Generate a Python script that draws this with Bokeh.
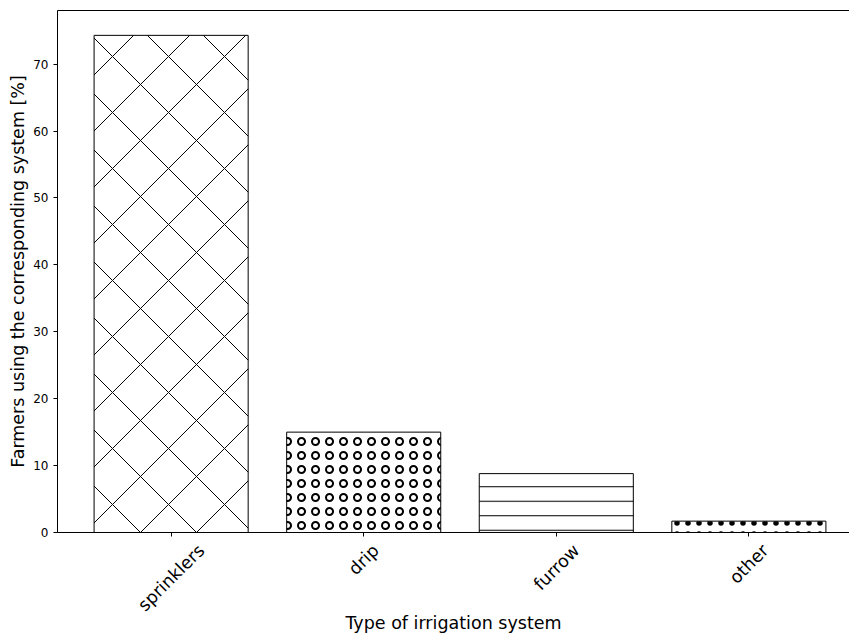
import math
from bokeh.plotting import figure
from bokeh.models import (ColumnDataSource, Range1d, FixedTicker, LinearAxis,
                          CustomJSTickFormatter)
from bokeh.embed import file_html
from bokeh.resources import INLINE

# ---- data ----
categories = ["sprinklers", "drip", "furrow", "other"]
percent = [74.3, 15.0, 8.8, 1.7]
y_ticks = [0, 10, 20, 30, 40, 50, 60, 70]
x_title = "Type of irrigation system"
y_title = "Farmers using the corresponding system [%]"

# ---- styles ----
hatches = ["diagonal_cross", "ring", "horizontal_line", "dot"]
hatch_scales = [56, 14, 14.5, 11]
hatch_weights = [1, 2, 1, 1]

FONT = "DejaVu Sans"
LABEL_PX = 17.5
W, H = 849, 636
BL, BT, BB = 57, 10, 104
frame_w = W - BL
frame_h = H - BT - BB

n = len(categories)
bar_w = 0.8
y_top = max(percent) * 1.05
x_lo = -bar_w / 2 - 0.05 * (n - 1 + bar_w)
x_hi_full = (n - 1) + bar_w / 2 + 0.05 * (n - 1 + bar_w)
full_frame_w = 805  # reference frame is cropped at the right edge
x_hi = x_lo + (x_hi_full - x_lo) * frame_w / full_frame_w
px_per_x = frame_w / (x_hi - x_lo)

p = figure(width=W, height=H,
           x_range=Range1d(x_lo, x_hi), y_range=Range1d(0, y_top),
           output_backend="svg", toolbar_location=None,
           min_border_left=BL, min_border_right=0,
           min_border_top=BT, min_border_bottom=BB)
p.background_fill_color = "white"
p.border_fill_color = "white"
p.outline_line_color = None
p.xgrid.visible = False
p.ygrid.visible = False

src = ColumnDataSource(dict(
    x=list(range(n)), top=percent, hatch=hatches,
    scale=hatch_scales, weight=hatch_weights))
p.vbar(x="x", top="top", bottom=0, width=bar_w, source=src,
       fill_color="white", line_color="black", line_width=1,
       hatch_pattern="hatch", hatch_scale="scale", hatch_weight="weight",
       hatch_color="black")

# x axis: tick marks only
xa = p.xaxis[0]
xa.ticker = FixedTicker(ticks=list(range(n)))
xa.major_label_overrides = {i: "" for i in range(n)}
xa.major_label_text_font_size = "0px"
xa.major_label_standoff = 0
xa.major_tick_out = 4
xa.major_tick_in = 0
xa.minor_tick_out = 0
xa.minor_tick_in = 0
xa.axis_line_color = "black"
xa.major_tick_line_color = "black"

# CCW-rotated names, shifted so each text's centre sits under its bar
CW = {"s": .521, "p": .635, "r": .411, "i": .278, "n": .634, "k": .579, "l": .278,
      "e": .615, "d": .635, "f": .352, "u": .634, "o": .612, "w": .818, "t": .392,
      "h": .634}

def text_w(t, size):
    return sum(CW.get(c, .6) for c in t) * size

label_ticks = [i + 0.354 * text_w(name, LABEL_PX) / px_per_x
               for i, name in enumerate(categories)]
la = LinearAxis(ticker=FixedTicker(ticks=label_ticks),
                formatter=CustomJSTickFormatter(args=dict(names=categories),
                                                code="return names[Math.round(tick)]"),
                major_label_orientation=math.pi / 4,
                major_label_text_font=FONT,
                major_label_text_font_size=f"{LABEL_PX}px",
                major_label_text_color="black",
                major_label_standoff=11,
                major_tick_out=0, major_tick_in=0,
                minor_tick_out=0, minor_tick_in=0,
                axis_line_color=None,
                axis_label=x_title,
                axis_label_text_font=FONT,
                axis_label_text_font_size=f"{LABEL_PX}px",
                axis_label_text_font_style="normal",
                axis_label_text_color="black",
                axis_label_standoff=-12)
p.add_layout(la, "below")

ya = p.yaxis[0]
ya.ticker = FixedTicker(ticks=y_ticks)
ya.major_label_text_font = FONT
ya.major_label_text_font_size = "12px"
ya.major_label_text_color = "black"
ya.major_label_standoff = 5
ya.major_tick_out = 4
ya.major_tick_in = 0
ya.minor_tick_out = 0
ya.minor_tick_in = 0
ya.axis_line_color = "black"
ya.major_tick_line_color = "black"
ya.axis_label = y_title
ya.axis_label_text_font = FONT
ya.axis_label_text_font_size = f"{LABEL_PX}px"
ya.axis_label_text_font_style = "normal"
ya.axis_label_text_color = "black"
ya.axis_label_standoff = 2

top_axis = LinearAxis(ticker=FixedTicker(ticks=[]), major_tick_out=0, major_tick_in=0,
                      minor_tick_out=0, minor_tick_in=0,
                      major_label_text_font_size="0px", axis_line_color="black")
p.add_layout(top_axis, "above")

open("out.html", "w").write(file_html(p, INLINE))
